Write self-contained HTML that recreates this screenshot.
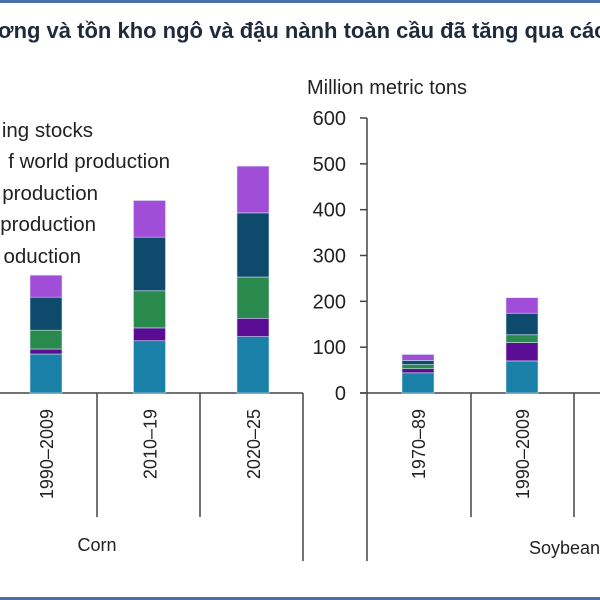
<!DOCTYPE html>
<html><head><meta charset="utf-8"><style>
html,body{margin:0;padding:0;background:#fff;}
svg{display:block;font-family:"Liberation Sans","Noto Sans CJK SC",sans-serif;}
</style></head><body>
<svg id="chart" width="600" height="600" viewBox="0 0 600 600">
<rect x="0" y="0" width="600" height="3" fill="#4b70a8"/>
<rect x="0" y="597" width="600" height="3" fill="#4b70a8"/>
<text x="-18" y="38" font-size="22" font-weight="bold" fill="#1f2a3a">ương và tồn kho ngô và đậu nành toàn cầu đã tăng qua các</text>
<g font-size="20.5" fill="#222" text-anchor="end">
<text x="93" y="137">ing stocks</text>
<text x="170" y="168">f world production</text>
<text x="98" y="200">production</text>
<text x="96" y="231">production</text>
<text x="81" y="263">oduction</text>
</g>
<text x="307" y="94" font-size="20" fill="#222">Million metric tons</text>
<g id="axes"></g>
<g id="bars"></g>
</svg>
<script>
const ticks = [0, 100, 200, 300, 400, 500, 600];
const cornCats = ["1990–2009", "2010–19", "2020–25"];
const soyCats = ["1970–89", "1990–2009"];
// stacks bottom->top: teal, purple, green, dark blue, lilac
const cornTeal = [85, 114, 123];
const cornPurple = [11, 28, 40];
const cornGreen = [41, 81, 90];
const cornNavy = [72, 117, 140];
const cornLilac = [48, 80, 102];
const soyTeal = [44, 70];
const soyPurple = [9, 40];
const soyGreen = [9, 17];
const soyNavy = [9, 47];
const soyLilac = [13, 34];

const NS = "http://www.w3.org/2000/svg";
const base = 393, top600 = 118;
function y(v){ return base - (v/600)*(base-top600); }
function mk(tag, attrs, parent){ const e=document.createElementNS(NS,tag); for(const k in attrs) e.setAttribute(k,attrs[k]); parent.appendChild(e); return e; }
const axes = document.getElementById("axes"), bars = document.getElementById("bars");
const colors = ["#1a80a8","#5a0d94","#2a8a4e","#0d4a6b","#a04ed8"];

const yl = mk("line",{x1:367,y1:y(600),x2:367,y2:561,stroke:"#444","stroke-width":1.5},axes);


const bl = mk("line",{x1:360,y1:base,x2:600,y2:base,stroke:"#444","stroke-width":1.5},axes);


const cl = mk("line",{x1:0,y1:base,x2:303,y2:base,stroke:"#444","stroke-width":1.5},axes);


ticks.forEach(t=>{
  const tl = mk("line",{x1:360,y1:y(t),x2:367,y2:y(t),stroke:"#444","stroke-width":1.5},axes);
  
  
  const tx = mk("text",{x:346,y:y(t)+7,"font-size":20,fill:"#222","text-anchor":"end"},axes);
  tx.textContent = t;
  
  
});
[[97,517],[200,517],[303,561],[471,517],[574,517]].forEach(s=>{
  const l = mk("line",{x1:s[0],y1:base,x2:s[0],y2:s[1],stroke:"#444","stroke-width":1.5},axes);
  
  
});
function group(cats, series, x0, step, prefix){
  cats.forEach((c,i)=>{
    const cx = x0 + i*step;
    let acc = 0;
    series.forEach((s,k)=>{
      const v = s[i];
      const r = mk("rect",{x:cx-16,y:y(acc+v),width:32,height:y(acc)-y(acc+v),fill:colors[k],stroke:"#cfe3ee","stroke-width":0.6},bars);
      
      
      acc += v;
    });
    const t = mk("text",{x:0,y:0,"font-size":18,fill:"#222","text-anchor":"end",transform:"translate("+(cx+7)+",409) rotate(-90)"},axes);
    t.textContent = c;
    
    
  });
}
group(cornCats,[cornTeal,cornPurple,cornGreen,cornNavy,cornLilac],46,103.5,'corn');
group(soyCats,[soyTeal,soyPurple,soyGreen,soyNavy,soyLilac],418,104,'soy');
const g1 = mk("text",{x:97,y:551,"font-size":18,fill:"#222","text-anchor":"middle"},axes);
g1.textContent="Corn";


const g2 = mk("text",{x:529,y:554,"font-size":18,fill:"#222"},axes);
g2.textContent="Soybeans";


</script>
</body></html>
